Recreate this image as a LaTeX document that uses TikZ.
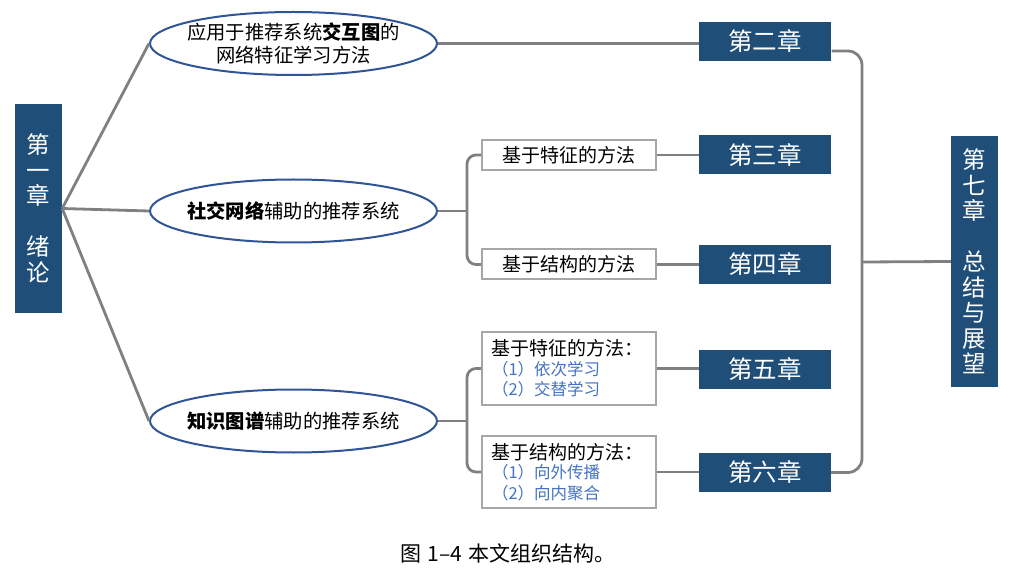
\documentclass[tikz,border=0pt]{standalone}
\usepackage{fontspec}
\setmainfont{Noto Sans CJK SC}
\usetikzlibrary{shapes.geometric}
\definecolor{chapblue}{HTML}{1F4E79}
\definecolor{ellblue}{HTML}{2F5597}
\definecolor{linegray}{HTML}{808080}
\definecolor{boxgray}{HTML}{A6A6A6}
\definecolor{subblue}{HTML}{4472C4}
\begin{document}
\begin{tikzpicture}[x=1pt,y=-1pt,
  chapbox/.style={fill=chapblue, draw=none, text=white, inner sep=0pt, minimum width=132pt, minimum height=39pt, font=\fontsize{24.5}{26}\selectfont},
  vbox/.style={fill=chapblue, draw=none, text=white, inner sep=0pt, minimum width=47pt, align=center, font=\fontsize{23.5}{25.5}\selectfont},
  ell/.style={ellipse, draw=ellblue, line width=2pt, fill=white, inner xsep=-6pt, inner ysep=0pt, minimum width=287pt, minimum height=63pt, align=center, font=\fontsize{19.3}{22.5}\selectfont},
  sbox/.style={rectangle, draw=boxgray, line width=2pt, fill=white, inner xsep=9pt, inner ysep=0pt, minimum width=174pt, minimum height=30pt, font=\fontsize{19}{20.5}\selectfont},
  conn/.style={draw=linegray, line width=2.8pt},
  rc/.style={conn, rounded corners=9pt}
]
\useasboundingbox (0,0) rectangle (1013,572);

% nodes
\node[vbox, minimum height=209pt] (c1) at (38.5,208.5) {第\\一\\章\\[25.5pt]绪\\论};
\node[vbox, minimum height=251pt] (c7) at (974.5,261.5) {第\\七\\章\\[25.5pt]总\\结\\与\\展\\望};

\node[ell] (e1) at (293.5,43.5) {应用于推荐系统{\bfseries 交互图}的\\网络特征学习方法};
\node[ell] (e2) at (293.5,211) {{\bfseries 社交网络}辅助的推荐系统};
\node[ell] (e3) at (293.5,421) {{\bfseries 知识图谱}辅助的推荐系统};

\node[sbox] (f1) at (569,155) {基于特征的方法};
\node[sbox] (s1) at (569,264.5) {基于结构的方法};
\node[sbox, minimum height=73pt, text width=156pt, align=left] (fa) at (569,368.5)
  {基于特征的方法：\\[-1pt]{\color{subblue}\fontsize{16.5}{20.5}\selectfont\hspace*{1pt}（1）依次学习}\\{\color{subblue}\fontsize{16.5}{20.5}\selectfont\hspace*{1pt}（2）交替学习}};
\node[sbox, minimum height=72pt, text width=156pt, align=left] (sb) at (569,472)
  {基于结构的方法：\\[-1pt]{\color{subblue}\fontsize{16.5}{20.5}\selectfont\hspace*{1pt}（1）向外传播}\\{\color{subblue}\fontsize{16.5}{20.5}\selectfont\hspace*{1pt}（2）向内聚合}};

\node[chapbox] (c2) at (765,41.5) {第二章};
\node[chapbox] (c3) at (765,155) {第三章};
\node[chapbox] (c4) at (765,264.5) {第四章};
\node[chapbox] (c5) at (765,369.5) {第五章};
\node[chapbox] (c6) at (765,472.5) {第六章};

\coordinate (j2) at (467,211);
\coordinate (j3) at (467,421);
\coordinate (j7) at (862,262);
\coordinate (c2r) at (831.5,51);

% connectors (left fan)
\draw[conn] (c1.east) -- (e1.west);
\draw[conn] (c1.east) -- (e2.west);
\draw[conn] (c1.east) -- (e3.west);

\draw[conn] (e1.east) -- (e1.east -| c2.west);

\draw[conn] (e2.east) -- (j2);
\draw[rc] (f1.west) -| (j2) |- (s1.west);
\draw[conn] (f1.east) -- (f1.east -| c3.west);
\draw[conn] (s1.east) -- (s1.east -| c4.west);

\draw[conn] (e3.east) -- (j3);
\draw[rc] (fa.west) -| (j3) |- (sb.west);
\draw[conn] (fa.east) -- (fa.east -| c5.west);
\draw[conn] (sb.east) -- (sb.east -| c6.west);

\draw[conn, rounded corners=14pt] (c2r) -| (j7) |- (c6.east);
\draw[conn] (j7) -- (c7.west);

\node[font=\fontsize{21}{24}\selectfont] (cap) at (508,553) {图\hspace{6pt}1–4\hspace{6pt}本文组织结构。};
\end{tikzpicture}
\end{document}
